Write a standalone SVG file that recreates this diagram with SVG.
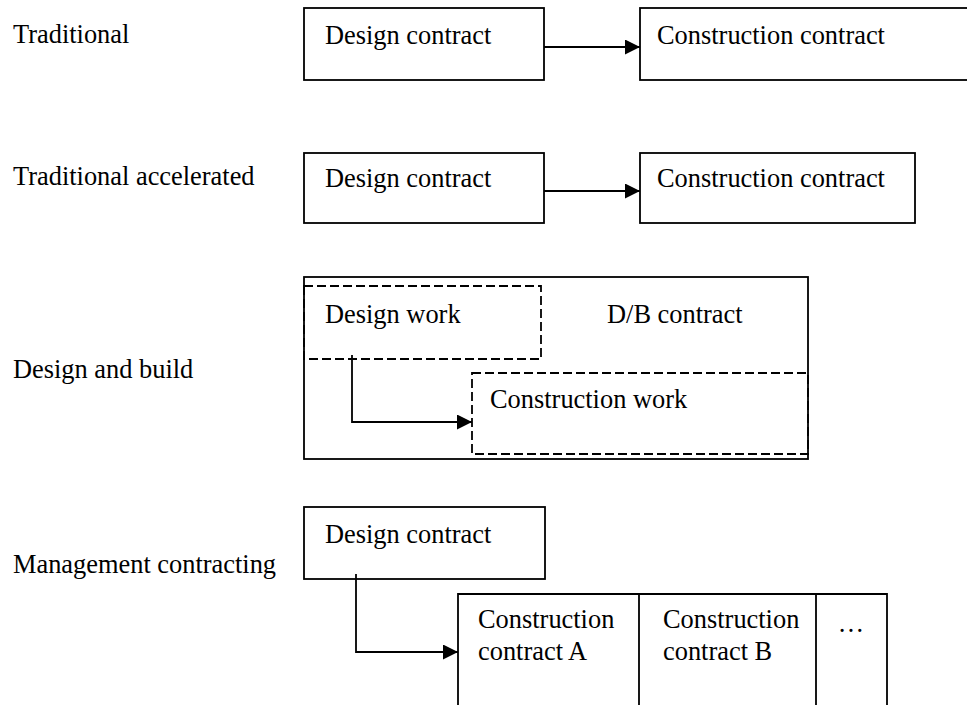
<svg xmlns="http://www.w3.org/2000/svg" width="967" height="705" viewBox="0 0 967 705">
<style>
text{font-family:"Liberation Serif","Times New Roman",serif;font-size:26.4px;fill:#000}
.box{fill:none;stroke:#000;stroke-width:1.8}
.dash{fill:none;stroke:#000;stroke-width:1.8;stroke-dasharray:9 4}
.conn{fill:none;stroke:#000;stroke-width:1.8}
</style>
<defs>
<marker id="ah" markerUnits="userSpaceOnUse" markerWidth="16" markerHeight="16" refX="15" refY="7.5" orient="auto">
<path d="M0,0 L15,7.5 L0,15 Z" fill="#000"/>
</marker>
</defs>
<rect width="967" height="705" fill="#fff"/>
<g id="labels">
<text x="13" y="43">Traditional</text>
<text x="13" y="185">Traditional accelerated</text>
<text x="13" y="378">Design and build</text>
<text x="13" y="573">Management contracting</text>
</g>
<g id="trad-design"><rect class="box" x="304" y="8" width="240" height="72"/><text x="325" y="44">Design contract</text></g>
<g id="trad-construction"><rect class="box" x="640" y="8" width="330" height="72"/><text x="657" y="44">Construction contract</text></g>
<g id="acc-design"><rect class="box" x="304" y="153" width="240" height="70"/><text x="325" y="187">Design contract</text></g>
<g id="acc-construction"><rect class="box" x="640" y="153" width="275" height="70"/><text x="657" y="187">Construction contract</text></g>
<g id="db-contract"><rect class="box" x="304" y="277" width="504" height="182"/><text x="607" y="323">D/B contract</text></g>
<g id="db-design"><rect class="dash" x="304" y="286" width="237" height="73"/><text x="325" y="323">Design work</text></g>
<g id="db-construction"><rect class="dash" x="472" y="373" width="336" height="81"/><text x="490" y="408">Construction work</text></g>
<g id="mc-design"><rect class="box" x="304" y="507" width="241" height="72"/><text x="325" y="543">Design contract</text></g>
<g id="mc-construction">
<path class="box" d="M458,710 V594 H887 V710 M639,594 V710 M816,594 V710"/>
<text x="478" y="628">Construction</text><text x="478" y="660">contract A</text>
<text x="663" y="628">Construction</text><text x="663" y="660">contract B</text>
<text x="851" y="632" text-anchor="middle">…</text>
</g>
<g id="connectors">
<line class="conn" x1="544" y1="47" x2="640" y2="47" marker-end="url(#ah)"/>
<line class="conn" x1="544" y1="191" x2="640" y2="191" marker-end="url(#ah)"/>
<path class="conn" d="M352,355 V422 H472" marker-end="url(#ah)"/>
<path class="conn" d="M356,574 V652 H458" marker-end="url(#ah)"/>
</g>
</svg>
